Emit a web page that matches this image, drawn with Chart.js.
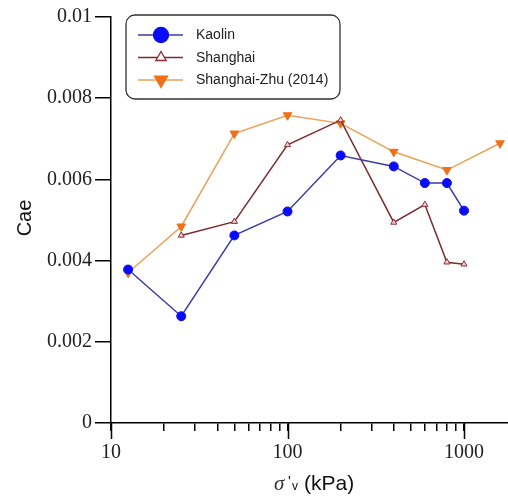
<!DOCTYPE html>
<html>
<head>
<meta charset="utf-8">
<script src="https://cdn.jsdelivr.net/npm/chart.js@4"></script>
<style>
html,body{margin:0;padding:0;background:#fff;}
canvas{display:block;}
</style>
</head>
<body>
<canvas id="c" width="508" height="498"></canvas>
<script>
// ---- data ----
const kaolinStress = [12.5, 25, 50, 100, 200, 400, 600, 800, 1000];
const kaolinCae    = [0.00378, 0.00263, 0.00462, 0.00521, 0.00659, 0.00632, 0.00591, 0.00591, 0.00523];
const shanghaiStress = [25, 50, 100, 200, 400, 600, 800, 1000];
const shanghaiCae    = [0.00462, 0.00496, 0.00685, 0.00746, 0.00494, 0.00538, 0.00396, 0.00391];
const zhuStress = [12.5, 25, 50, 100, 200, 400, 800, 1600];
const zhuCae    = [0.0037, 0.00484, 0.00713, 0.00758, 0.00738, 0.00668, 0.00623, 0.00689];
const seriesNames = ['Kaolin', 'Shanghai', 'Shanghai-Zhu (2014)'];
const xTickValues = [10,20,30,40,50,60,70,80,90,100,200,300,400,500,600,700,800,900,1000];
const xMajorTicks = [10, 100, 1000];
const yTickValues = [0, 0.002, 0.004, 0.006, 0.008, 0.01];
const yTickLabels = ['0', '0.002', '0.004', '0.006', '0.008', '0.01'];

const pts = (xs, ys) => xs.map((x, i) => ({x: x, y: ys[i]}));

const legendPlugin = {
  id: 'boxLegend',
  afterDraw(chart) {
    const ctx = chart.ctx;
    const bx = 126, by = 15, bw = 214, bh = 84, r = 9;
    ctx.save();
    ctx.beginPath();
    ctx.moveTo(bx + r, by);
    ctx.arcTo(bx + bw, by, bx + bw, by + bh, r);
    ctx.arcTo(bx + bw, by + bh, bx, by + bh, r);
    ctx.arcTo(bx, by + bh, bx, by, r);
    ctx.arcTo(bx, by, bx + bw, by, r);
    ctx.closePath();
    ctx.fillStyle = '#fff';
    ctx.fill();
    ctx.lineWidth = 1.3;
    ctx.strokeStyle = '#333';
    ctx.stroke();
    const rows = [35, 57.5, 80];
    chart.data.datasets.forEach((ds, i) => {
      const y = rows[i];
      ctx.beginPath();
      ctx.moveTo(138, y);
      ctx.lineTo(183, y);
      ctx.strokeStyle = ds.borderColor;
      ctx.lineWidth = 1.5;
      ctx.stroke();
      ctx.fillStyle = ds.legendFill;
      ctx.strokeStyle = ds.legendStroke;
      ctx.lineWidth = 1.3;
      Chart.helpers.drawPoint(ctx, {
        pointStyle: ds.pointStyle,
        rotation: ds.pointRotation || 0,
        radius: ds.legendRadius,
        borderWidth: 1.3
      }, 161, y);
      ctx.fillStyle = '#222';
      ctx.font = '14px "Liberation Sans", Arial, sans-serif';
      ctx.textAlign = 'left';
      ctx.textBaseline = 'middle';
      ctx.fillText(ds.label, 196, y + 0.5);
    });
    ctx.restore();
  }
};

const axisExtrasPlugin = {
  id: 'axisExtras',
  afterDraw(chart) {
    const ctx = chart.ctx;
    const xs = chart.scales.x, ys = chart.scales.y;
    ctx.save();
    // longer major ticks on x
    ctx.strokeStyle = '#000';
    ctx.lineWidth = 1.5;
    xMajorTicks.forEach(v => {
      const px = Math.round(xs.getPixelForValue(v)) + 0.5;
      ctx.beginPath();
      ctx.moveTo(px, ys.bottom);
      ctx.lineTo(px, ys.bottom + 16);
      ctx.stroke();
    });
    // y title
    ctx.fillStyle = '#111';
    ctx.font = '20px "Liberation Sans", Arial, sans-serif';
    ctx.textAlign = 'center';
    ctx.textBaseline = 'middle';
    ctx.translate(25, 218);
    ctx.rotate(-Math.PI / 2);
    ctx.fillText('Cae', 0, 0);
    ctx.setTransform(1, 0, 0, 1, 0, 0);
    // x title
    ctx.textAlign = 'left';
    ctx.textBaseline = 'alphabetic';
    const base = 490;
    ctx.fillStyle = '#333';
    ctx.font = 'italic 21px "Liberation Serif", "Times New Roman", serif';
    ctx.fillText('\u03C3', 274, base);
    ctx.fillStyle = '#111';
    ctx.font = '15px "Liberation Sans", Arial, sans-serif';
    ctx.fillText("'", 288, base - 4);
    ctx.font = '12px "Liberation Sans", Arial, sans-serif';
    ctx.fillText('v', 292, base);
    ctx.font = '21px "Liberation Sans", Arial, sans-serif';
    ctx.fillText('(kPa)', 304, base);
    ctx.restore();
  }
};

const datasets = [
  {
    label: seriesNames[0],
    data: pts(kaolinStress, kaolinCae),
    borderColor: '#3a3aa8',
    borderWidth: 1.5,
    pointStyle: 'circle',
    pointRadius: 4.5,
    legendRadius: 7.5,
    pointBackgroundColor: '#0a0aff',
    pointBorderColor: '#0a0aff',
    pointBorderWidth: 1,
    legendFill: '#0a0aff', legendStroke: '#0a0aff'
  },
  {
    label: seriesNames[1],
    data: pts(shanghaiStress, shanghaiCae),
    borderColor: '#7a2a30',
    borderWidth: 1.5,
    pointStyle: 'triangle',
    pointRadius: 3.5,
    legendRadius: 6,
    pointBackgroundColor: '#f4d0d0',
    pointBorderColor: '#8a2a30',
    pointBorderWidth: 1,
    legendFill: '#ffffff', legendStroke: '#8a2a30'
  },
  {
    label: seriesNames[2],
    data: pts(zhuStress, zhuCae),
    borderColor: '#eba055',
    borderWidth: 1.5,
    pointStyle: 'triangle',
    pointRotation: 180,
    pointRadius: 5,
    legendRadius: 7.5,
    pointBackgroundColor: '#f07018',
    pointBorderColor: '#f07018',
    pointBorderWidth: 1,
    legendFill: '#f07018', legendStroke: '#f07018'
  }
];

new Chart(document.getElementById('c'), {
  type: 'line',
  data: { datasets: datasets },
  options: {
    responsive: false,
    animation: false,
    devicePixelRatio: 1,
    layout: { autoPadding: false, padding: { top: 17, right: 0, left: 0, bottom: 0 } },
    plugins: { legend: { display: false }, tooltip: { enabled: false } },
    elements: { line: { tension: 0 } },
    datasets: { line: { clip: false } },
    scales: {
      x: {
        type: 'logarithmic',
        min: 10,
        max: 1775,
        afterBuildTicks(scale) { scale.ticks = xTickValues.map(v => ({ value: v })); },
        afterFit(scale) { scale.height = 75; scale.paddingRight = 0; scale.paddingLeft = 0; },
        border: { display: true, color: '#000', width: 1.5 },
        grid: { drawOnChartArea: false, drawTicks: true, tickLength: 8, color: '#000', lineWidth: 1.5 },
        ticks: {
          autoSkip: false,
          maxRotation: 0,
          padding: 10,
          color: '#222',
          font: { family: '"Liberation Serif", "Times New Roman", serif', size: 20 },
          callback: (v) => xMajorTicks.includes(v) ? String(v) : ''
        }
      },
      y: {
        type: 'linear',
        min: 0,
        max: 0.01,
        afterBuildTicks(scale) { scale.ticks = yTickValues.map(v => ({ value: v })); },
        afterFit(scale) { scale.width = 111; },
        border: { display: true, color: '#000', width: 1.5 },
        grid: { drawOnChartArea: false, drawTicks: true, tickLength: 16, color: '#000', lineWidth: 1.5 },
        ticks: {
          padding: 3,
          color: '#222',
          font: { family: '"Liberation Serif", "Times New Roman", serif', size: 20 },
          callback: (v, i) => yTickLabels[i]
        }
      }
    }
  },
  plugins: [legendPlugin, axisExtrasPlugin]
});
</script>
</body>
</html>
